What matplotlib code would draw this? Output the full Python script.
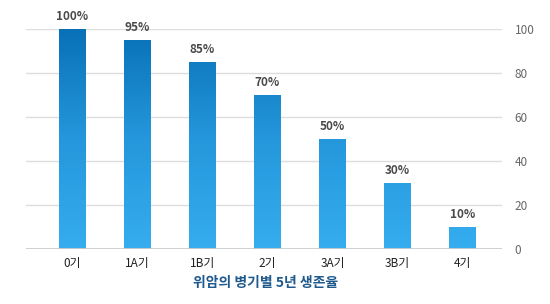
import numpy as np
import matplotlib
matplotlib.use("Agg")
import matplotlib.pyplot as plt
from matplotlib.colors import LinearSegmentedColormap

plt.rcParams['font.family'] = ['Noto Sans CJK KR', 'DejaVu Sans']

# 데이터
stages = ['0기', '1A기', '1B기', '2기', '3A기', '3B기', '4기']
survival = [100, 95, 85, 70, 50, 30, 10]
yticks = [0, 20, 40, 60, 80, 100]
title = '위암의 병기별 5년 생존율'

fig = plt.figure(figsize=(5.5, 3.04), dpi=100)
ax = fig.add_axes([0.047, 0.181, 0.866, 0.724])

x = np.arange(len(stages))
bars = ax.bar(x, survival, width=0.415, color='none', zorder=3)

# 그라데이션 (위: 진한 파랑, 아래: 밝은 파랑)
cmap = LinearSegmentedColormap.from_list('blues', ['#35adef', '#2597dc', '#0870b7'])
grad = np.linspace(0, 1, 256).reshape(-1, 1)
for b in bars:
    im = ax.imshow(grad, cmap=cmap, origin='lower', aspect='auto',
                   extent=[b.get_x(), b.get_x() + b.get_width(), 0, 100], zorder=3)
    im.set_clip_path(b)
    ax.text(b.get_x() + b.get_width() / 2, b.get_height() + 2.5, f'{b.get_height():.0f}%',
            ha='center', va='bottom', fontsize=8.5, color='#4a4a4a', fontweight='bold')

ax.set_xlim(-0.715, 6.61)
ax.set_ylim(0, 100)

for y in yticks[1:]:
    ax.axhline(y, color='#dddddd', lw=1, zorder=1)
ax.axhline(0, color='#cccccc', lw=2, zorder=4)

ax.yaxis.tick_right()
ax.set_yticks(yticks)
ax.set_yticklabels([str(v) for v in yticks], fontsize=8.5, color='#666666')
ax.tick_params(axis='y', length=0, pad=9)
ax.set_xticks(x)
ax.set_xticklabels(stages, fontsize=8.5, color='#222222')
ax.tick_params(axis='x', length=0, pad=6)
for s in ax.spines.values():
    s.set_visible(False)

fig.text(0.482, 0.068, title, ha='center', va='center', fontsize=10,
         fontweight='bold', color='#1f5a8e')

fig.savefig('out.png', dpi=100)
